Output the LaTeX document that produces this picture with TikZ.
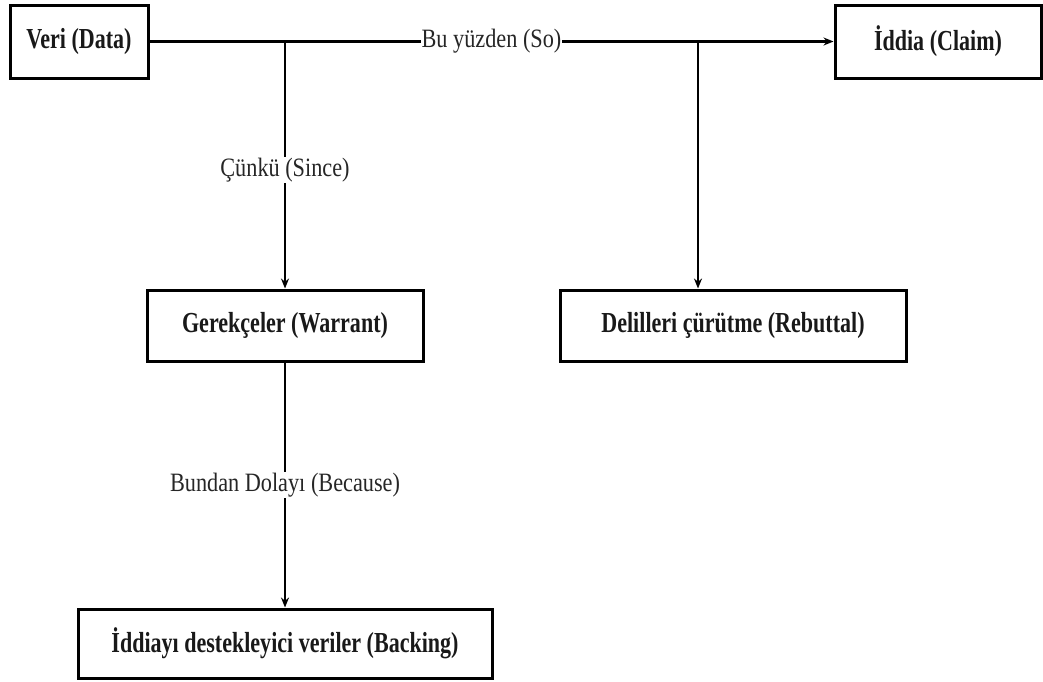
\documentclass[tikz,border=0pt]{standalone}
\usepackage{fontspec}
\setmainfont{Liberation Serif}
\newfontfamily\boxfont[FakeStretch=0.76]{Liberation Serif}
\newfontfamily\labfont[FakeStretch=0.84]{Liberation Serif}
\usetikzlibrary{arrows.meta}
\begin{document}
\begin{tikzpicture}[x=1pt,y=-1pt,
  box/.style={draw, line width=3pt, inner sep=0pt, font=\boxfont\bfseries\fontsize{29}{32}\selectfont, text=black!90},
  lab/.style={fill=white, inner sep=1pt, font=\labfont\fontsize{26.5}{30}\selectfont, text=black!85},
  conn/.style={line width=2.8pt},
  arr/.style={conn, -{Stealth[length=10pt,width=8pt]}}]
\useasboundingbox (0,0) rectangle (1043,681);
\node[box, minimum width=138pt, minimum height=73pt] (veri) at (79,41.5) {Veri (Data)};
\node[box, minimum width=206pt, minimum height=73pt] (claim) at (938,41.5) {İddia (Claim)};
\node[box, minimum width=276pt, minimum height=71pt] (warrant) at (285,325.5) {Gerekçeler (Warrant)};
\node[box, minimum width=346pt, minimum height=71pt] (rebuttal) at (733,325.5) {Delilleri çürütme (Rebuttal)};
\node[box, minimum width=414pt, minimum height=69pt] (backing) at (285,643.5) {İddiayı destekleyici veriler (Backing)};
\coordinate (j1) at (warrant.north |- veri.east);
\coordinate (j2) at (698,41.5);
\draw[arr] (veri.east) -- node[lab] {Bu yüzden (So)} (claim.west);
\draw[arr] (j1) -- node[lab, pos=0.52] {Çünkü (Since)} (warrant.north);
\draw[arr] (j2) -- (j2 |- rebuttal.north);
\draw[arr] (warrant.south) -- node[lab] {Bundan Dolayı (Because)} (backing.north);
\end{tikzpicture}
\end{document}
